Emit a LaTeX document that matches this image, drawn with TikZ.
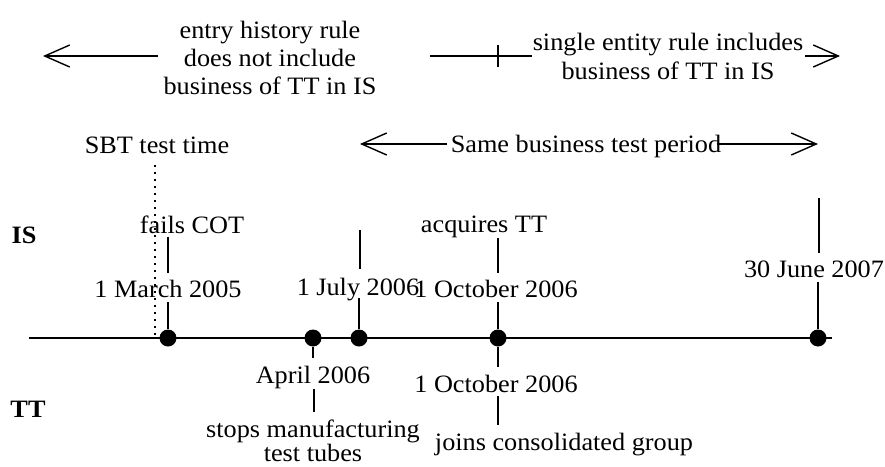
\documentclass[tikz,border=0pt]{standalone}
\usepackage{fontspec}
\setmainfont{Liberation Serif}[FakeStretch=1.05]
\usetikzlibrary{arrows.meta}
\begin{document}
\begin{tikzpicture}[x=1pt,y=-1pt,line width=1.4pt,
  lbl/.style={inner sep=0pt,anchor=base,font=\fontsize{25}{28}\selectfont},
  hd/.style={inner sep=0pt,anchor=base,font=\fontsize{25}{28}\selectfont\bfseries},
  ev/.style={circle,fill=black,inner sep=0pt,minimum size=17pt},
  tipped/.style={-{Straight Barb[length=25pt,width=22pt]}},
  dotline/.style={dash pattern=on 2pt off 5pt,line width=1.5pt}]
\useasboundingbox (0,0) rectangle (885,466);

% ---------- top rule arrow ----------
\node[lbl] (eh1) at (270,38) {entry history rule};
\node[lbl] (eh2) at (270,66) {does not include};
\node[lbl] (eh3) at (270,94) {business of TT in IS};
\node[lbl] (se1) at (668,50) {single entity rule includes};
\node[lbl] (se2) at (668,79) {business of TT in IS};
\coordinate (ltip) at (43,56);
\coordinate (la) at (158,56);
\coordinate (ra) at (430,56);
\coordinate (rb) at (532,56);
\coordinate (tick) at (498,56);
\coordinate (rc) at (805,56);
\coordinate (rtip) at (840,56);
\draw[tipped] (la) -- (ltip);
\draw (ra) -- (rb);
\draw ([yshift=-11pt]tick) -- ([yshift=11pt]tick);
\draw[tipped] (rc) -- (rtip);

% ---------- second row ----------
\node[lbl] (sbt) at (157,153) {SBT test time};
\node[lbl] (sbp) at (586,152) {Same business test period};
\coordinate (sl) at (360,144);
\coordinate (sa) at (447,144);
\coordinate (sb) at (717,144);
\coordinate (sr) at (818,144);
\draw[tipped] (sa) -- (sl);
\draw[tipped] (sb) -- (sr);

% ---------- row labels ----------
\node[hd] (is) at (24,243) {IS};
\node[hd] (tt) at (28,417) {TT};

% ---------- timeline ----------
\coordinate (t0) at (29,338);
\coordinate (t1) at (832,338);
\draw (t0) -- (t1);
\coordinate (dtop) at (155,165);
\coordinate (dbot) at (155,337);
\draw[dotline] (dtop) -- (dbot);
\node[ev] (mar) at (168,338) {};
\node[ev] (apr) at (313,338) {};
\node[ev] (jul) at (359,338) {};
\node[ev] (oct) at (498,338) {};
\node[ev] (jun) at (818,338) {};

% 1 March 2005
\node[lbl] (fcot) at (192,233) {fails COT};
\node[lbl] (mard) at (168,297) {1 March 2005};
\coordinate (m1) at (168,237);
\coordinate (m2) at (168,273);
\coordinate (m3) at (168,302);
\draw (m1) -- (m2);
\draw (m3) -- (mar);

% 1 July 2006
\node[lbl] (juld) at (358,295) {1 July 2006};
\coordinate (j1) at (360,230);
\coordinate (j2) at (360,269);
\coordinate (j3) at (359,298);
\draw (j1) -- (j2);
\draw (j3) -- (jul);

% 1 October 2006 (IS)
\node[lbl] (acq) at (484,232) {acquires TT};
\node[lbl] (octd) at (496,297) {1 October 2006};
\coordinate (o1) at (498,238);
\coordinate (o2) at (498,273);
\coordinate (o3) at (498,302);
\draw (o1) -- (o2);
\draw (o3) -- (oct);

% 1 October 2006 (TT)
\node[lbl] (octt) at (496,392) {1 October 2006};
\node[lbl] (join) at (564,450) {joins consolidated group};
\coordinate (o4) at (498,367);
\coordinate (o5) at (498,396);
\coordinate (o6) at (498,425);
\draw (oct) -- (o4);
\draw (o5) -- (o6);

% 30 June 2007
\node[lbl] (jund) at (814,277) {30 June 2007};
\coordinate (u1) at (819,198);
\coordinate (u2) at (819,253);
\coordinate (u3) at (818,282);
\draw (u1) -- (u2);
\draw (u3) -- (jun);

% April 2006
\node[lbl] (aprd) at (313,383) {April 2006};
\node[lbl] (stp1) at (313,437) {stops manufacturing};
\node[lbl] (stp2) at (313,461) {test tubes};
\coordinate (a1) at (313,358);
\coordinate (a2) at (314,389);
\coordinate (a3) at (314,412);
\draw (apr) -- (a1);
\draw (a2) -- (a3);
\end{tikzpicture}
\end{document}
